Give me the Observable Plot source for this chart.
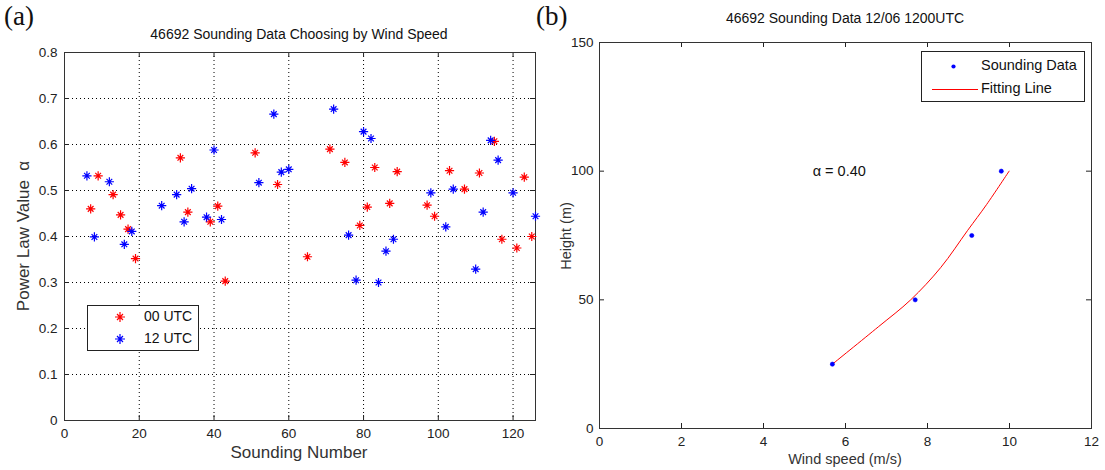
<!DOCTYPE html>
<html><head><meta charset="utf-8">
<script src="https://cdn.jsdelivr.net/npm/d3@7"></script>
<script src="https://cdn.jsdelivr.net/npm/@observablehq/plot@0.6"></script>
<style>
body{margin:0;background:#fff;font-family:"Liberation Sans",Arial,sans-serif;}
#wrap{position:relative;width:1105px;height:470px;overflow:hidden;}
.abs{position:absolute;white-space:nowrap;color:#111;}
.panel{position:absolute;top:0;}
.lab{font-family:"Liberation Serif","Times New Roman",serif;font-size:27px;}
.ttl{font-size:14px;transform:translateX(-50%);}
.legend{position:absolute;border:1px solid #222;background:#fff;}
</style></head><body><div id="wrap"></div>
<script>
// ---------- Panel (a) data ----------
const utc00Number = [7,9,13,15,17,19,31,33,39,41,43,51,57,65,71,75,79,81,83,87,89,97,99,103,107,111,115,117,121,123,125];
const utc00Alpha  = [0.460,0.532,0.491,0.447,0.416,0.352,0.571,0.453,0.432,0.466,0.303,0.582,0.513,0.356,0.590,0.561,0.424,0.464,0.550,0.472,0.541,0.468,0.444,0.543,0.503,0.538,0.607,0.394,0.375,0.529,0.400];
const utc12Number = [6,8,12,16,18,26,30,32,34,38,40,42,52,56,58,60,72,76,78,80,82,84,86,88,98,102,104,110,112,114,116,120,126];
const utc12Alpha  = [0.532,0.399,0.519,0.383,0.411,0.467,0.491,0.432,0.504,0.442,0.588,0.437,0.517,0.666,0.540,0.546,0.677,0.403,0.305,0.628,0.613,0.300,0.368,0.394,0.495,0.421,0.503,0.329,0.453,0.609,0.566,0.495,0.444];
const aXTicks = [0,20,40,60,80,100,120];
const aYTicks = [0,0.1,0.2,0.3,0.4,0.5,0.6,0.7,0.8];
const aSeries = ["00 UTC","12 UTC"];

// ---------- Panel (b) data ----------
const soundWind   = [5.68,7.70,9.08,9.80];
const soundHeight = [25,50,75,100];
const fitWind     = [5.68,6.80,7.59,8.32,8.98,9.44,9.99];
const fitHeight   = [25,39.5,50,62.5,77,87,100];
const bXTicks = [0,2,4,6,8,10,12];
const bYTicks = [0,50,100,150];
const alphaNote = ["α = 0.40"];
const alphaNoteWind = [5.2];
const alphaNoteHeight = [100];

const star = {
  draw(ctx, size) {
    const r = Math.sqrt(size / Math.PI), d = r * 0.62;
    ctx.moveTo(-r, 0); ctx.lineTo(r, 0);
    ctx.moveTo(0, -r); ctx.lineTo(0, r);
    ctx.moveTo(-d, -d); ctx.lineTo(d, d);
    ctx.moveTo(-d, d); ctx.lineTo(d, -d);
  }
};

const wrap = document.getElementById("wrap");
function add(html, cls, style) {
  const el = document.createElement("div");
  el.className = cls; el.innerHTML = html; Object.assign(el.style, style);
  wrap.appendChild(el); return el;
}
const font = "'Liberation Sans', Arial, sans-serif";
const tickStyle = {stroke: "#222", strokeWidth: 1};

// ---------- Panel (a) ----------
const A = {w: 560, h: 470, ml: 64, mr: 25, mt: 52, mb: 50};
const aIH = A.h - A.mt - A.mb, aIW = A.w - A.ml - A.mr;
const pts00 = utc00Number.map((n, i) => ({n, a: utc00Alpha[i], s: aSeries[0]}));
const pts12 = utc12Number.map((n, i) => ({n, a: utc12Alpha[i], s: aSeries[1]}));
const plotA = Plot.plot({
  width: A.w, height: A.h,
  marginLeft: A.ml, marginRight: A.mr, marginTop: A.mt, marginBottom: A.mb,
  style: {fontFamily: font, fontSize: "13.5px", color: "#222", background: "transparent"},
  x: {domain: [0, 126]},
  y: {domain: [0, 0.8]},
  marks: [
    Plot.gridX(aXTicks, {stroke: "#000", strokeOpacity: 1, strokeDasharray: "1,3"}),
    Plot.gridY(aYTicks, {stroke: "#000", strokeOpacity: 1, strokeDasharray: "1,3"}),
    Plot.tickX(aXTicks, {x: d => d, insetTop: aIH - 5, ...tickStyle}),
    Plot.tickX(aXTicks, {x: d => d, insetBottom: aIH - 5, ...tickStyle}),
    Plot.tickY(aYTicks, {y: d => d, insetRight: aIW - 5, ...tickStyle}),
    Plot.tickY(aYTicks, {y: d => d, insetLeft: aIW - 5, ...tickStyle}),
    Plot.axisX(aXTicks, {tickSize: 0, tickPadding: 8, label: null, tickFormat: d => String(d)}),
    Plot.axisY(aYTicks, {tickSize: 0, tickPadding: 7, label: null, tickFormat: d => String(d)}),
    Plot.frame({stroke: "#333", strokeWidth: 1}),
    Plot.dot(pts00, {x: "n", y: "a", symbol: star, r: 4.6, fill: "none", stroke: "#ff0000", strokeWidth: 1.2}),
    Plot.dot(pts12, {x: "n", y: "a", symbol: star, r: 4.6, fill: "none", stroke: "#0000ff", strokeWidth: 1.2})
  ]
});
const pa = document.createElement("div"); pa.className = "panel"; pa.style.left = "0px";
pa.appendChild(plotA); wrap.appendChild(pa);

// ---------- Panel (b) ----------
const B = {w: 545, h: 470, ml: 39, mr: 14, mt: 42, mb: 42};
const bIH = B.h - B.mt - B.mb, bIW = B.w - B.ml - B.mr;
const sound = soundWind.map((v, i) => ({v, h: soundHeight[i]}));
const fit = fitWind.map((v, i) => ({v, h: fitHeight[i]}));
const note = alphaNote.map((t, i) => ({t, v: alphaNoteWind[i], h: alphaNoteHeight[i]}));
const plotB = Plot.plot({
  width: B.w, height: B.h,
  marginLeft: B.ml, marginRight: B.mr, marginTop: B.mt, marginBottom: B.mb,
  style: {fontFamily: font, fontSize: "13.5px", color: "#222", background: "transparent"},
  x: {domain: [0, 12]},
  y: {domain: [0, 150]},
  marks: [
    Plot.tickX(bXTicks, {x: d => d, insetTop: bIH - 5, ...tickStyle}),
    Plot.tickX(bXTicks, {x: d => d, insetBottom: bIH - 5, ...tickStyle}),
    Plot.tickY(bYTicks, {y: d => d, insetRight: bIW - 5, ...tickStyle}),
    Plot.tickY(bYTicks, {y: d => d, insetLeft: bIW - 5, ...tickStyle}),
    Plot.axisX(bXTicks, {tickSize: 0, tickPadding: 8, label: null, tickFormat: d => String(d)}),
    Plot.axisY(bYTicks, {tickSize: 0, tickPadding: 6, label: null, tickFormat: d => String(d)}),
    Plot.frame({stroke: "#333", strokeWidth: 1}),
    Plot.line(fit, {x: "v", y: "h", stroke: "#ff0000", strokeWidth: 1, curve: "catmull-rom"}),
    Plot.dot(sound, {x: "v", y: "h", symbol: "circle", r: 2.1, fill: "#0000ff", stroke: "#0000ff", strokeWidth: 0.6}),
    Plot.text(note, {x: "v", y: "h", text: "t", textAnchor: "start", fontSize: 14.5, fill: "#111"})
  ]
});
const pb = document.createElement("div"); pb.className = "panel"; pb.style.left = "560px";
pb.appendChild(plotB); wrap.appendChild(pb);

// ---------- Texts ----------
add("(a)", "abs lab", {left: "4px", top: "1px"});
add("(b)", "abs lab", {left: "536px", top: "1px"});
add("46692 Sounding Data Choosing by Wind Speed", "abs ttl", {left: "299px", top: "26px"});
add("46692 Sounding Data 12/06 1200UTC", "abs ttl", {left: "845px", top: "10px"});
add("Sounding Number", "abs", {left: "299px", top: "443px", fontSize: "17px", transform: "translateX(-50%)", color: "#333"});
add("Power Law Value &nbsp;α", "abs", {left: "24px", top: "236px", fontSize: "17px", transform: "translate(-50%,-50%) rotate(-90deg)", color: "#333"});
add("Wind speed (m/s)", "abs", {left: "845px", top: "451px", fontSize: "14.5px", transform: "translateX(-50%)", color: "#333"});
add("Height (m)", "abs", {left: "566px", top: "236px", fontSize: "14.5px", transform: "translate(-50%,-50%) rotate(-90deg)", color: "#333"});

// legend (a)
const la = add("", "legend", {left: "87px", top: "305px", width: "110px", height: "44px"});
const starSvg = c => `<svg width="12" height="12" style="position:absolute"><path d="M1,6H11M6,1V11M3,3L9,9M3,9L9,3" stroke="${c}" stroke-width="1.2" fill="none"/></svg>`;
la.innerHTML =
  `<div style="position:absolute;left:26px;top:5px">${starSvg("#ff0000")}</div>
   <div style="position:absolute;left:56px;top:2px;font-size:14px;color:#111">00 UTC</div>
   <div style="position:absolute;left:26px;top:27px">${starSvg("#0000ff")}</div>
   <div style="position:absolute;left:56px;top:24px;font-size:14px;color:#111">12 UTC</div>`;

// legend (b)
const lb = add("", "legend", {left: "921px", top: "51px", width: "162px", height: "49px"});
lb.innerHTML =
  `<svg width="60" height="49" style="position:absolute;left:0;top:0">
     <circle cx="31.5" cy="14.5" r="2.1" fill="#0000ff"/>
     <line x1="10" x2="56" y1="37.5" y2="37.5" stroke="#ff0000" stroke-width="1"/>
   </svg>
   <div style="position:absolute;left:59px;top:5px;font-size:14.5px;color:#111">Sounding Data</div>
   <div style="position:absolute;left:59px;top:28px;font-size:14.5px;color:#111">Fitting Line</div>`;
</script></body></html>
